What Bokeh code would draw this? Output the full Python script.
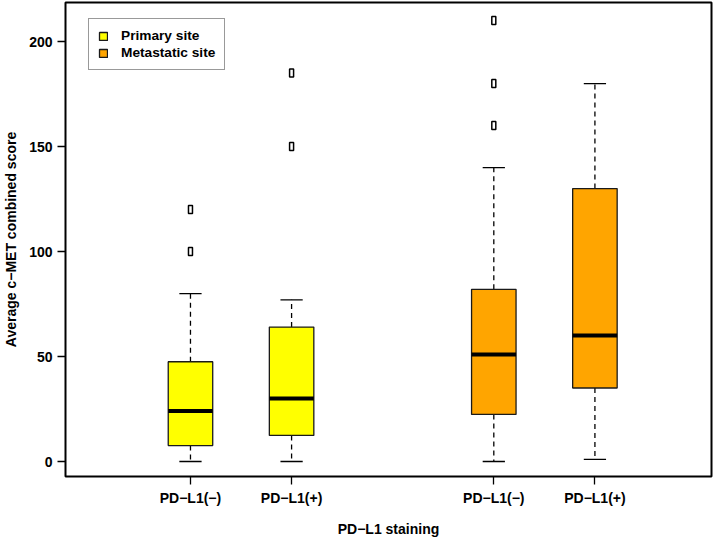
from bokeh.plotting import figure
from bokeh.models import ColumnDataSource, FixedTicker, Range1d, Legend, LegendItem
from bokeh.embed import file_html
from bokeh.resources import INLINE

# ---- data ----
positions = [1, 2, 4, 5]
tick_labels = ["PD\u2212L1(\u2212)", "PD\u2212L1(+)", "PD\u2212L1(\u2212)", "PD\u2212L1(+)"]
groups = ["Primary site", "Primary site", "Metastatic site", "Metastatic site"]
colors = ["#FFFF00", "#FFFF00", "#FFA500", "#FFA500"]
whisker_low = [0, 0, 0, 1]
q1 = [7.6, 12.4, 22.4, 35]
median = [24, 30, 51, 60]
q3 = [47.5, 64, 82, 130]
whisker_high = [80, 77, 140, 180]
outlier_pos = [1, 1, 2, 2, 4, 4, 4]
outlier_val = [100, 120, 150, 185, 160, 180, 210]
y_ticks = [0, 50, 100, 150, 200]

box_w = 0.44
cap_w = 0.22

FONT = "Liberation Sans"

p = figure(width=713, height=539, output_backend="svg", toolbar_location=None,
           x_range=Range1d(-0.236, 6.153), y_range=Range1d(-7.14, 218.6),
           min_border_left=65, min_border_right=2, min_border_top=2, min_border_bottom=63)
p.grid.visible = False
p.outline_line_color = "black"
p.outline_line_width = 2
p.background_fill_color = "white"
p.border_fill_color = "white"

src = ColumnDataSource(dict(
    pos=positions, group=groups, color=colors, lo=whisker_low, q1=q1, med=median,
    q3=q3, hi=whisker_high,
    left=[x - box_w / 2 for x in positions], right=[x + box_w / 2 for x in positions],
    cl=[x - cap_w / 2 for x in positions], cr=[x + cap_w / 2 for x in positions],
))

# whiskers (dashed)
p.segment(x0="pos", y0="q3", x1="pos", y1="hi", source=src, line_color="black",
          line_width=1.3, line_dash="5 4")
p.segment(x0="pos", y0="q1", x1="pos", y1="lo", source=src, line_color="black",
          line_width=1.3, line_dash="5 4")
# caps
p.segment(x0="cl", y0="hi", x1="cr", y1="hi", source=src, line_color="black", line_width=1.3)
p.segment(x0="cl", y0="lo", x1="cr", y1="lo", source=src, line_color="black", line_width=1.3)

# boxes per group (for legend)
legend_items = []
for g in ["Primary site", "Metastatic site"]:
    idx = [i for i, gg in enumerate(groups) if gg == g]
    s = ColumnDataSource(dict(
        pos=[positions[i] for i in idx], q1=[q1[i] for i in idx], q3=[q3[i] for i in idx],
        color=[colors[i] for i in idx]))
    r = p.vbar(x="pos", bottom="q1", top="q3", width=box_w, source=s, fill_color="color",
               line_color="#1a1a1a", line_width=1.3)
    legend_items.append(LegendItem(label=g, renderers=[r]))

# medians
p.segment(x0="left", y0="med", x1="right", y1="med", source=src, line_color="black",
          line_width=4)

# outliers
osrc = ColumnDataSource(dict(x=outlier_pos, y=outlier_val))
p.rect(x="x", y="y", width=4, height=8, width_units="screen", height_units="screen",
       source=osrc, fill_color="white", line_color="black", line_width=1.5)

# axes
p.xaxis.ticker = FixedTicker(ticks=positions)
p.xaxis.major_label_overrides = {pos: lab for pos, lab in zip(positions, tick_labels)}
p.yaxis.ticker = FixedTicker(ticks=y_ticks)
for ax in (p.xaxis[0], p.yaxis[0]):
    ax.axis_line_color = None
    ax.major_tick_in = 0
    ax.major_tick_out = 8
    ax.major_tick_line_color = "black"
    ax.major_tick_line_width = 1.3
    ax.minor_tick_line_color = None
    ax.major_label_text_font = FONT
    ax.major_label_text_font_style = "bold"
    ax.major_label_text_font_size = "14px"
    ax.major_label_text_color = "black"
    ax.axis_label_text_font = FONT
    ax.axis_label_text_font_style = "bold"
    ax.axis_label_text_font_size = "14px"
    ax.axis_label_text_color = "black"

p.xaxis.axis_label = "PD\u2212L1 staining"
p.yaxis.axis_label = "Average c\u2212MET combined score"
p.xaxis.major_label_standoff = 5
p.yaxis.major_label_standoff = 5
p.xaxis.axis_label_standoff = 12
p.yaxis.axis_label_standoff = 7

legend = Legend(items=legend_items, location=(23, 406),
                label_text_font=FONT, label_text_font_style="bold",
                label_text_font_size="13.7px", label_text_color="black",
                glyph_width=10, glyph_height=10, label_height=15, label_standoff=13,
                spacing=2, padding=9, margin=0,
                border_line_color="#333333", border_line_width=1.2,
                background_fill_color="white", background_fill_alpha=1.0)
p.add_layout(legend, "center")

open("out.html", "w").write(file_html(p, INLINE))
